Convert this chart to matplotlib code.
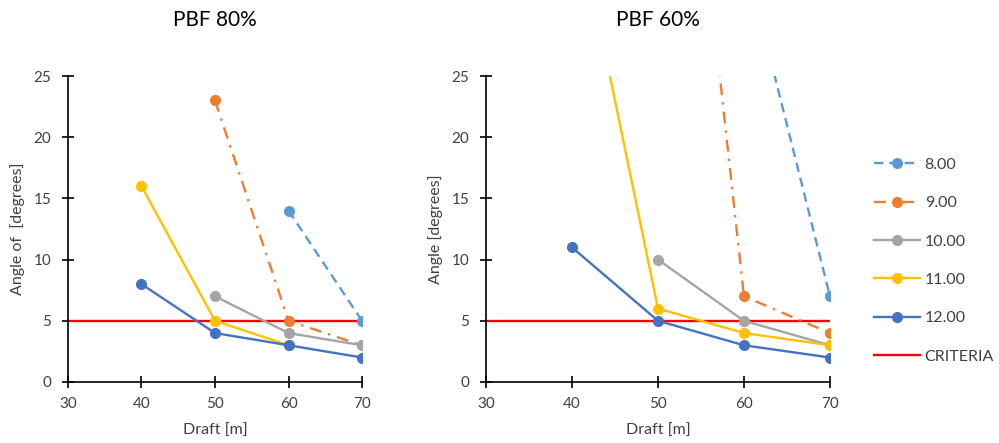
import numpy as np
import matplotlib
matplotlib.use("Agg")
import matplotlib.pyplot as plt

plt.rcParams['font.family'] = ['Lato', 'DejaVu Sans']

# Draft values [m]
draft = [40, 50, 60, 70]
nan = np.nan

# PBF 80% - angle [degrees] per series
pbf80_s8 = [nan, nan, 14, 5]
pbf80_s9 = [nan, 23, 5, 3]
pbf80_s10 = [nan, 7, 4, 3]
pbf80_s11 = [16, 5, 3, nan]
pbf80_s12 = [8, 4, 3, 2]

# PBF 60% - angle [degrees] per series
pbf60_s8 = [nan, nan, 35, 7]
pbf60_s9 = [nan, 71, 7, 4]
pbf60_s10 = [nan, 10, 5, 3]
pbf60_s11 = [40, 6, 4, 3]
pbf60_s12 = [11, 5, 3, 2]

series_labels = ["8.00", "9.00", "10.00", "11.00", "12.00"]
criteria_x = [30, 70]
criteria_y = [5, 5]

colors = ["#5B9BD5", "#ED7D31", "#A5A5A5", "#FFC000", "#4472C4"]
styles = [dict(dashes=(4, 2.5)), dict(dashes=(5, 3, 1, 3)), {}, {}, {}]
text_color = "#404040"

fig = plt.figure(figsize=(9.99, 4.43), dpi=100)
ax1 = fig.add_axes([0.068, 0.1377, 0.2944, 0.6907])
ax2 = fig.add_axes([0.4865, 0.1377, 0.3443, 0.6907])

panels = [
    (ax1, [pbf80_s8, pbf80_s9, pbf80_s10, pbf80_s11, pbf80_s12], "PBF 80%", "Angle of  [degrees]"),
    (ax2, [pbf60_s8, pbf60_s9, pbf60_s10, pbf60_s11, pbf60_s12], "PBF 60%", "Angle [degrees]"),
]

handles = []
for ax, data, title, ylabel in panels:
    crit, = ax.plot(criteria_x, criteria_y, color="#FF0000", lw=1.7, zorder=2, label="CRITERIA")
    hs = []
    for vals, lab, c, st in zip(data, series_labels, colors, styles):
        h, = ax.plot(draft, vals, color=c, lw=1.7, marker="o", markersize=7,
                     label=lab, zorder=3, **st)
        hs.append(h)
    handles = hs + [crit]
    ax.set_xlim(30, 70)
    ax.set_ylim(0, 25)
    ax.set_xticks([30, 40, 50, 60, 70])
    ax.set_yticks([0, 5, 10, 15, 20, 25])
    for s in ["top", "right"]:
        ax.spines[s].set_visible(False)
    for s in ["left", "bottom"]:
        ax.spines[s].set_color("black")
        ax.spines[s].set_linewidth(1.2)
    ax.tick_params(direction="inout", length=8, width=1.2, color="black",
                   labelsize=11, labelcolor=text_color)
    ax.tick_params(axis="x", pad=7)
    ax.tick_params(axis="y", pad=8)
    ax.set_xlabel("Draft [m]", fontsize=11.5, color=text_color, labelpad=9)
    ax.set_ylabel(ylabel, fontsize=11.5, color=text_color, labelpad=6)
    ax.set_title(title, fontsize=15, color="black", pad=36)

fig.legend(handles=handles, labels=series_labels + ["CRITERIA"],
           loc="upper left", bbox_to_anchor=(0.86, 0.677), frameon=False,
           fontsize=11.5, handlelength=2.9, handletextpad=0.3, labelspacing=1.52,
           labelcolor=text_color)

fig.savefig("out.png", dpi=100)
